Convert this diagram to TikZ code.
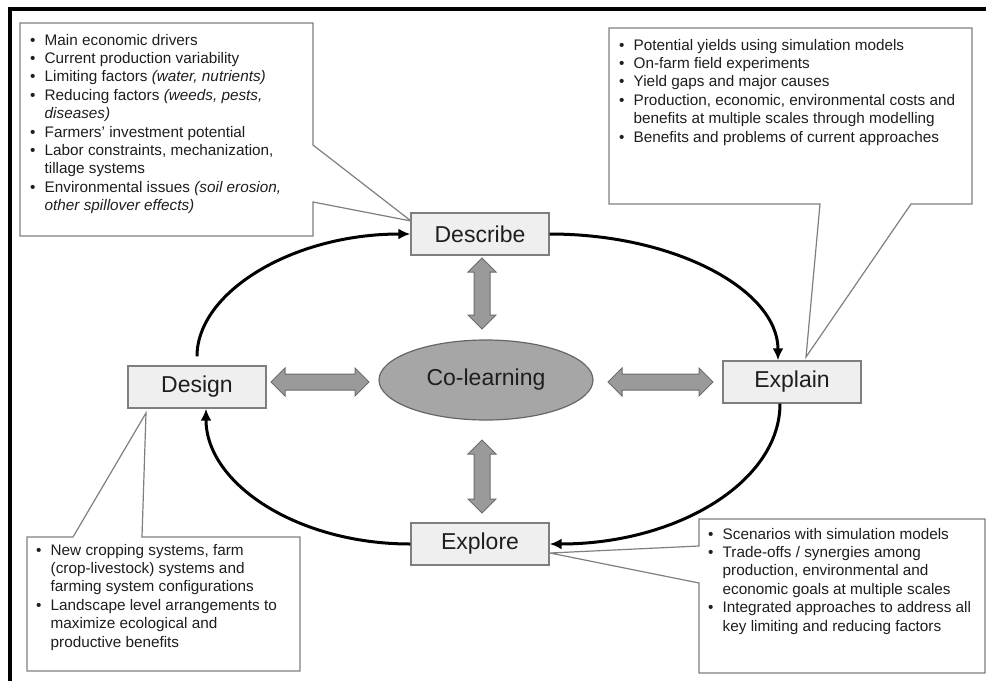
\documentclass[tikz,border=0pt]{standalone}
\usepackage{fontspec}
\setmainfont{Liberation Sans}
\usetikzlibrary{arrows.meta,shapes.arrows,shapes.geometric}

\definecolor{boxgray}{HTML}{EFEFEF}
\definecolor{edgegray}{HTML}{7F7F7F}
\definecolor{learngray}{HTML}{A6A6A6}
\definecolor{arrgray}{HTML}{9A9A9A}
\definecolor{inkgray}{HTML}{1E1E1E}

\tikzset{
  stage/.style={draw=edgegray, line width=1.4pt, fill=boxgray, minimum width=138pt,
    minimum height=42pt, inner sep=0pt, text=inkgray, font=\fontsize{23}{27}\selectfont},
  callout/.style={draw=edgegray, line width=1.2pt, fill=white},
  notes/.style={anchor=north west, inner sep=0pt, text=inkgray,
    font=\fontsize{15.3}{18.4}\selectfont},
  dblarr/.style={double arrow, double arrow head extend=6pt, minimum width=27pt,
    inner xsep=0pt, inner ysep=7.5pt, draw=edgegray!85!black, line width=1pt, fill=arrgray},
  loop/.style={-{Latex[length=12pt,width=11pt]}, line width=3pt, black},
}
\newcommand{\bul}{\makebox[14.5pt][l]{\textbullet}}

\begin{document}
\begin{tikzpicture}[x=1pt,y=-1pt]
\useasboundingbox (0,0) rectangle (986,681);
% frame
\draw[line width=3.5pt] (986,9) -- (10,9) -- (10,681);

% callouts
\draw[callout] (20,23) -- (313,23) -- (313,145) -- (411,221) -- (313,202) -- (313,236) -- (20,236) -- cycle;
\draw[callout] (609,28) -- (972,28) -- (972,204) -- (911,204) -- (806,357) -- (820,204) -- (609,204) -- cycle;
\draw[callout] (27,537) -- (73,537) -- (146,413) -- (142,537) -- (300,537) -- (300,671) -- (27,671) -- cycle;
\draw[callout] (699,519) -- (985,519) -- (985,673) -- (699,673) -- (699,583) -- (550,553) -- (699,546) -- cycle;

\node[notes] (descnotes) at (30,32) {\begin{tabular}{@{}l@{}l@{}}
\bul & Main economic drivers\\
\bul & Current production variability\\
\bul & Limiting factors \textit{(water,\ nutrients)}\\
\bul & Reducing factors \textit{(weeds,\ pests,}\\
 & \textit{diseases)}\\
\bul & Farmers' investment\ potential\\
\bul & Labor constraints, mechanization,\\
 & tillage systems\\
\bul & Environmental\ issues \textit{(soil erosion,}\\
 & \textit{other spillover effects)}
\end{tabular}};

\node[notes] (explnotes) at (619,37) {\begin{tabular}{@{}l@{}l@{}}
\bul & Potential yields using simulation models\\
\bul & On-farm field experiments\\
\bul & Yield gaps and major causes\\
\bul & Production, economic, environmental\ costs and\\
 & benefits at multiple scales through\ modelling\\
\bul & Benefits and problems of current\ approaches
\end{tabular}};

\node[notes] (designnotes) at (36,542) {\begin{tabular}{@{}l@{}l@{}}
\bul & New cropping systems, farm\\
 & (crop-livestock) systems and\\
 & farming system configurations\\
\bul & Landscape level arrangements to\\
 & maximize ecological and\\
 & productive benefits
\end{tabular}};

\node[notes] (explorenotes) at (708,526) {\begin{tabular}{@{}l@{}l@{}}
\bul & Scenarios with simulation models\\
\bul & Trade-offs / synergies among\\
 & production, environmental\ and\\
 & economic goals at multiple scales\\
\bul & Integrated\ approaches to address all\\
 & key limiting and reducing factors
\end{tabular}};

% stages
\node[stage] (describe) at (480,234) {Describe};
\node[stage] (design) at (197,387) {Design};
\node[stage] (explain) at (792,382) {Explain};
\node[stage] (explore) at (480,544) {Explore};
\node[ellipse, draw=edgegray!80!black, line width=1.2pt, fill=learngray, minimum width=214pt,
  minimum height=80pt, inner sep=0pt, text=inkgray, font=\fontsize{23}{27}\selectfont]
  (colearn) at (486,380) {Co-learning};

% two-way arrows
\node[dblarr, minimum height=98pt] (arrdesign) at (320,382) {};
\node[dblarr, minimum height=105pt] (arrexplain) at (660.5,382) {};
\node[dblarr, minimum height=71pt, rotate=90] (arrdescribe) at (482,293.5) {};
\node[dblarr, minimum height=73pt, rotate=90] (arrexplore) at (482,476.5) {};

% cycle
\draw[loop, shorten <=9pt] (design.north) .. controls +(0,-73) and +(-118,0) .. (describe.west);
\draw[loop] (describe.east) .. controls +(126,0) and +(0,-70) .. ([xshift=-14pt]explain.north);
\draw[loop] ([xshift=-12pt]explain.south) .. controls +(0,78) and +(127.5,0) .. (explore.east);
\draw[loop] (explore.west) .. controls +(-113,0) and +(0,75) .. ([xshift=9pt]design.south);
\end{tikzpicture}
\end{document}
